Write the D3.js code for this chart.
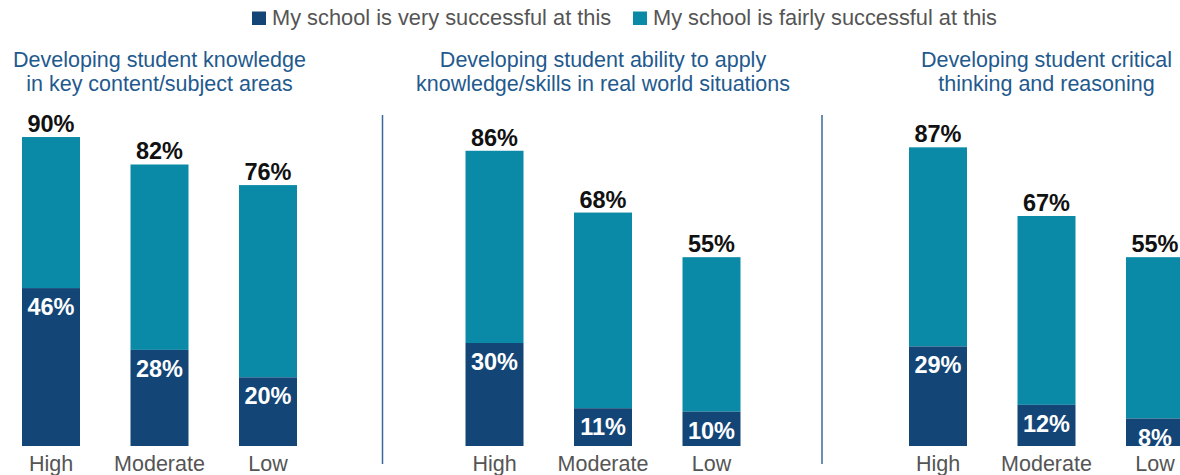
<!DOCTYPE html>
<html><head><meta charset="utf-8">
<script src="https://cdn.jsdelivr.net/npm/d3@7"></script>
<style>body{margin:0;background:#fff}svg{display:block}text{font-family:"Liberation Sans",Arial,sans-serif}</style>
</head><body><svg id="c" width="1180" height="475"></svg>
<script>
const panels = ["p1","p2","p3"];
const panelTitles = [
  ["Developing student knowledge","in key content/subject areas"],
  ["Developing student ability to apply","knowledge/skills in real world situations"],
  ["Developing student critical","thinking and reasoning"]
];
const categories = ["High","Moderate","Low"];
const veryValues = [[46,28,20],[30,11,10],[29,12,8]];
const totalValues = [[90,82,76],[86,68,55],[87,67,55]];
const seriesNames = ["My school is very successful at this","My school is fairly successful at this"];
const colors = ["#134677","#0b8aa8"];

const svg = d3.select("#c");
const y = d3.scaleLinear().domain([0,100]).range([446, 102.7]);
const px = d3.scaleBand().domain(panels).range([22, 22+3*443.5]).paddingInner(0).paddingOuter(0);
const x = d3.scaleBand().domain(categories).range([0,275]).paddingInner(0.4654).paddingOuter(0);

// legend
const leg = svg.append("g");
const legX = [252, 633];
seriesNames.forEach((s,i)=>{
  leg.append("rect").attr("x",legX[i]).attr("y",11.5).attr("width",14).attr("height",13.5).attr("fill",colors[i]);
  leg.append("text").attr("x",legX[i]+20).attr("y",25).attr("font-size",21.8).attr("fill","#555").text(s);
});

panels.forEach((p,pi)=>{
  const g = svg.append("g").attr("transform",`translate(${px(p)},0)`);
  const cx = 275/2;
  panelTitles[pi].forEach((t,li)=>{
    g.append("text").attr("x",cx).attr("y",67+li*24).attr("text-anchor","middle")
     .attr("font-size",21.5).attr("fill","#1f5a8e").text(t);
  });
  categories.forEach((c,ci)=>{
    const v = veryValues[pi][ci], tot = totalValues[pi][ci];
    const bx = x(c), bw = x.bandwidth();
    g.append("rect").attr("x",bx).attr("y",y(tot)).attr("width",bw).attr("height",y(v)-y(tot)).attr("fill",colors[1]);
    g.append("rect").attr("x",bx).attr("y",y(v)).attr("width",bw).attr("height",y(0)-y(v)).attr("fill",colors[0]);
    g.append("text").attr("x",bx+bw/2).attr("y",y(tot)-5).attr("text-anchor","middle")
      .attr("font-size",23.5).attr("font-weight","bold").attr("fill","#111").text(tot+"%");
    g.append("text").attr("x",bx+bw/2).attr("y",y(v)+27).attr("text-anchor","middle")
      .attr("font-size",23.5).attr("font-weight","bold").attr("fill","#fff").text(v+"%");
    g.append("text").attr("x",bx+bw/2).attr("y",471).attr("text-anchor","middle")
      .attr("font-size",21.5).attr("fill","#555").text(c);
  });
  if(pi>0){
    const lx = px(p) - 83 - (pi-1)*4;
    svg.append("line").attr("x1",lx).attr("x2",lx).attr("y1",115).attr("y2",464)
      .attr("stroke","#3a6898").attr("stroke-width",1.5);
  }
});
</script></body></html>
